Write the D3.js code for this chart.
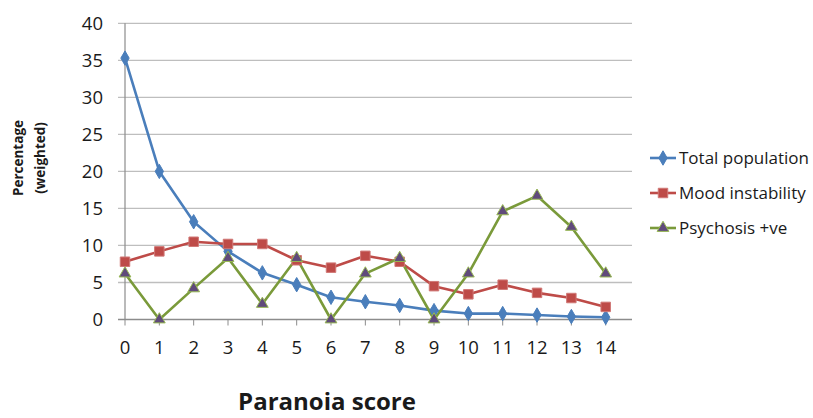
<!DOCTYPE html>
<html>
<head>
<meta charset="utf-8">
<script src="https://cdn.jsdelivr.net/npm/d3@7"></script>
<style>
  body { margin: 0; background: #fff; }
  text { font-family: "Open Sans", sans-serif; fill: #1a1a1a; }
</style>
</head>
<body>
<div class="chart"></div>
<script>
// Data
var scores = [0, 1, 2, 3, 4, 5, 6, 7, 8, 9, 10, 11, 12, 13, 14];
var totalPopulation = [35.3, 20.0, 13.2, 9.2, 6.3, 4.7, 3.0, 2.4, 1.9, 1.2, 0.8, 0.8, 0.6, 0.4, 0.3];
var moodInstability = [7.8, 9.2, 10.5, 10.2, 10.2, 8.0, 7.0, 8.6, 7.8, 4.5, 3.4, 4.7, 3.6, 2.9, 1.7];
var psychosisPositive = [6.2, 0, 4.2, 8.3, 2.1, 8.3, 0, 6.2, 8.3, 0, 6.2, 14.6, 16.7, 12.5, 6.2];
var yTicks = [0, 5, 10, 15, 20, 25, 30, 35, 40];
var seriesNames = ["Total population", "Mood instability", "Psychosis +ve"];

var W = 813, H = 418;
var plot = { left: 125, right: 632, top: 23.3, bottom: 319.5 };

var series = [
  { name: seriesNames[0], values: totalPopulation, color: "#4A7EBB", marker: d3.symbolDiamond, fill: "#4A7EBB", stroke: "#4A7EBB", size: 60 },
  { name: seriesNames[1], values: moodInstability, color: "#BE4B48", marker: d3.symbolSquare, fill: "#BE4B48", stroke: "#D07876", size: 90 },
  { name: seriesNames[2], values: psychosisPositive, color: "#7A9A3A", marker: d3.symbolTriangle, fill: "#604A7B", stroke: "#98B954", size: 60 }
];

var svg = d3.select(".chart").append("svg")
  .attr("width", W)
  .attr("height", H);

var x = d3.scaleLinear().domain([0, 14]).range([plot.left, 605.7]);
var y = d3.scaleLinear().domain([0, 40]).range([plot.bottom, plot.top]);

// gridlines + y ticks
svg.append("g").selectAll("line")
  .data(yTicks.filter(function (d) { return d > 0; }))
  .enter().append("line")
  .attr("x1", plot.left - 7).attr("x2", plot.right)
  .attr("y1", function (d) { return y(d); })
  .attr("y2", function (d) { return y(d); })
  .style("stroke", "#BEBEBE")
  .style("stroke-width", 1.3);

// y axis line
svg.append("line")
  .attr("x1", plot.left).attr("x2", plot.left)
  .attr("y1", plot.top).attr("y2", plot.bottom)
  .style("stroke", "#8C8C8C").style("stroke-width", 1.2);

// x axis line + ticks
svg.append("line")
  .attr("x1", plot.left - 7).attr("x2", plot.right)
  .attr("y1", plot.bottom).attr("y2", plot.bottom)
  .style("stroke", "#8C8C8C").style("stroke-width", 1.3);

svg.append("g").selectAll("line")
  .data(scores)
  .enter().append("line")
  .attr("x1", function (d) { return x(d); })
  .attr("x2", function (d) { return x(d); })
  .attr("y1", plot.bottom).attr("y2", plot.bottom + 6)
  .style("stroke", "#8C8C8C").style("stroke-width", 1);

// y tick labels
svg.append("g").selectAll("text")
  .data(yTicks)
  .enter().append("text")
  .attr("x", 103)
  .attr("y", function (d) { return y(d); })
  .attr("dy", "0.36em")
  .attr("text-anchor", "end")
  .style("font-size", "18.5px")
  .text(function (d) { return d; });

// x tick labels
svg.append("g").selectAll("text")
  .data(scores)
  .enter().append("text")
  .attr("x", function (d) { return x(d); })
  .attr("y", 354)
  .attr("text-anchor", "middle")
  .style("font-size", "18.5px")
  .text(function (d) { return d; });

// axis titles
svg.append("text")
  .attr("x", 327).attr("y", 410)
  .attr("text-anchor", "middle")
  .style("font-size", "24px")
  .style("font-weight", "bold")
  .text("Paranoia score");

var yTitle = svg.append("text")
  .attr("transform", "translate(0,158) rotate(-90)")
  .attr("text-anchor", "middle")
  .style("font-size", "13.5px")
  .style("font-weight", "bold");
yTitle.append("tspan").attr("x", 0).attr("y", 23).text("Percentage");
yTitle.append("tspan").attr("x", 0).attr("y", 45).text("(weighted)");

// lines and markers
var line = d3.line()
  .x(function (d, i) { return x(scores[i]); })
  .y(function (d) { return y(d); });

series.forEach(function (s) {
  svg.append("path")
    .attr("d", line(s.values))
    .style("fill", "none")
    .style("stroke", s.color)
    .style("stroke-width", 2.6)
    .style("stroke-linejoin", "round");
});

series.forEach(function (s) {
  var sym = d3.symbol().type(s.marker).size(s.size);
  svg.append("g").selectAll("path")
    .data(s.values)
    .enter().append("path")
    .attr("d", sym)
    .attr("transform", function (d, i) { return "translate(" + x(scores[i]) + "," + y(d) + ")"; })
    .style("fill", s.fill)
    .style("stroke", s.stroke)
    .style("stroke-width", 1);
});

// legend
var legend = svg.append("g").selectAll("g")
  .data(series)
  .enter().append("g")
  .attr("transform", function (d, i) { return "translate(650," + (158 + i * 35) + ")"; });

legend.append("line")
  .attr("x1", 0).attr("x2", 26)
  .style("stroke", function (d) { return d.color; })
  .style("stroke-width", 2.6);

legend.append("path")
  .attr("d", function (d) { return d3.symbol().type(d.marker).size(d.size)(); })
  .attr("transform", "translate(13,0)")
  .style("fill", function (d) { return d.fill; })
  .style("stroke", function (d) { return d.stroke; });

legend.append("text")
  .attr("x", 29)
  .attr("dy", "0.36em")
  .style("font-size", "17px")
  .text(function (d) { return d.name; });
</script>
</body>
</html>
